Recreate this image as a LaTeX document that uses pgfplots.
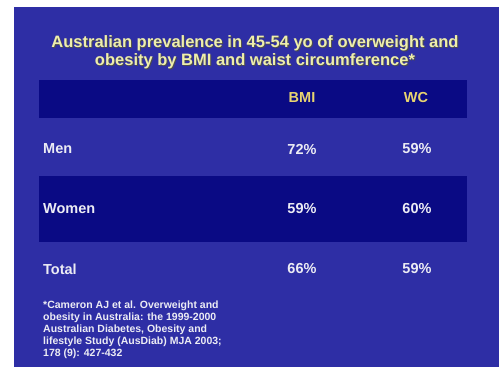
\documentclass[border=0pt]{standalone}
\usepackage{pgfplots}
\pgfplotsset{compat=1.18}
\usepackage{fontspec}
\setmainfont{Liberation Sans}
\definecolor{slide}{RGB}{46,46,165}
\definecolor{band}{RGB}{10,10,132}
\definecolor{titley}{RGB}{238,238,172}
\definecolor{heady}{RGB}{232,212,112}
\definecolor{txt}{RGB}{236,236,244}
\begin{document}
\begin{tikzpicture}
\begin{axis}[width=499bp,height=367bp,scale only axis,hide axis,
  xmin=0,xmax=499,ymin=0,ymax=367,y dir=reverse,clip=false,
  /pgf/number format/assume math mode=true]
% background
\addplot[fill=white,draw=none] coordinates {(0,0)(499,0)(499,367)(0,367)} -- cycle;
\addplot[fill=slide,draw=none] coordinates {(14,7)(499,7)(499,367)(14,367)} -- cycle;
% dark bands
\addplot[fill=band,draw=none] coordinates {(39,80)(467,80)(467,118)(39,118)} -- cycle;
\addplot[fill=band,draw=none] coordinates {(39,176)(467,176)(467,242)(39,242)} -- cycle;
% values (percent)
\addplot[only marks, mark=*, mark size=0pt, mark options={draw=none,fill=none},
  point meta=explicit,
  nodes near coords={\pgfmathprintnumber[assume math mode=true]{\pgfplotspointmeta}\%},
  every node near coord/.append style={anchor=center,text=txt,
    font=\fontsize{14.5bp}{16bp}\selectfont\bfseries}]
  table[meta=v] {
x y v
302 149 72
417 149 59
302 209 59
417 209 60
302 269 66
417 269 59
};
% title
\node[text=black!70,align=center,font=\fontsize{16.5bp}{18bp}\selectfont\bfseries] at (axis cs:256,53) {Australian prevalence in 45-54 yo of overweight and\\obesity by BMI and waist circumference*};
\node[text=titley,align=center,font=\fontsize{16.5bp}{18bp}\selectfont\bfseries] at (axis cs:255,52) {Australian prevalence in 45-54 yo of overweight and\\obesity by BMI and waist circumference*};
% header
\node[text=heady,font=\fontsize{14.5bp}{16bp}\selectfont\bfseries] at (axis cs:302,98) {BMI};
\node[text=heady,font=\fontsize{14.5bp}{16bp}\selectfont\bfseries] at (axis cs:416,98) {WC};
% row labels
\node[text=txt,anchor=west,inner sep=0pt,font=\fontsize{14.5bp}{16bp}\selectfont\bfseries] at (axis cs:43,149) {Men};
\node[text=txt,anchor=west,inner sep=0pt,font=\fontsize{14.5bp}{16bp}\selectfont\bfseries] at (axis cs:43,209) {Women};
\node[text=txt,anchor=west,inner sep=0pt,font=\fontsize{14.5bp}{16bp}\selectfont\bfseries] at (axis cs:43,269) {Total};
% footnote
\node[text=txt,anchor=north west,align=left,inner sep=0pt,font=\fontsize{10.5bp}{12bp}\selectfont\bfseries] at (axis cs:43,301) {*Cameron AJ et al. Overweight and\\obesity in Australia: the 1999-2000\\Australian Diabetes, Obesity and\\lifestyle Study (AusDiab) MJA 2003;\\178 (9): 427-432};
\end{axis}
\end{tikzpicture}
\end{document}
